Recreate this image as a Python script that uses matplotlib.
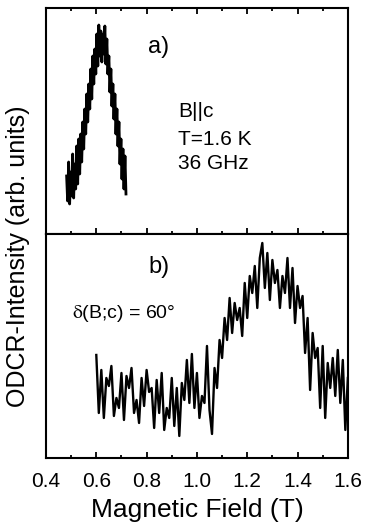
import matplotlib
matplotlib.use("Agg")
import numpy as np
import matplotlib.pyplot as plt
from matplotlib.ticker import MultipleLocator

plt.rcParams['font.family'] = ['Liberation Sans', 'DejaVu Sans']
plt.rcParams['mathtext.fontset'] = 'stix'

# panel a) B||c, T=1.6 K, 36 GHz
field_a = [0.482, 0.486, 0.490, 0.494, 0.498, 0.502, 0.506, 0.510, 0.514, 0.518,
           0.522, 0.526, 0.530, 0.534, 0.538, 0.542, 0.546, 0.550, 0.554, 0.558,
           0.562, 0.566, 0.570, 0.574, 0.578, 0.582, 0.586, 0.590, 0.594, 0.598,
           0.602, 0.606, 0.610, 0.614, 0.618, 0.622, 0.626, 0.630, 0.634, 0.638,
           0.642, 0.646, 0.650, 0.654, 0.658, 0.662, 0.666, 0.670, 0.674, 0.678,
           0.682, 0.686, 0.690, 0.694, 0.698, 0.702, 0.706, 0.710, 0.714, 0.718]
signal_a = [58, 33, 72, 30, 62, 38, 80, 36, 70, 45,
            88, 50, 95, 60, 100, 72, 112, 85, 125, 100,
            140, 112, 150, 125, 165, 135, 178, 150, 185, 160,
            200, 168, 209, 178, 203, 172, 200, 180, 208, 170,
            195, 160, 178, 142, 165, 128, 150, 115, 140, 100,
            125, 88, 112, 70, 95, 55, 85, 45, 78, 40]

# panel b) delta(B;c) = 60 deg
field_b = [0.60, 0.61, 0.62, 0.63, 0.64, 0.65, 0.66, 0.67, 0.68, 0.69,
           0.70, 0.71, 0.72, 0.73, 0.74, 0.75, 0.76, 0.77, 0.78, 0.79,
           0.80, 0.81, 0.82, 0.83, 0.84, 0.85, 0.86, 0.87, 0.88, 0.89,
           0.90, 0.91, 0.92, 0.93, 0.94, 0.95, 0.96, 0.97, 0.98, 0.99,
           1.00, 1.01, 1.02, 1.03, 1.04, 1.05, 1.06, 1.07, 1.08, 1.09,
           1.10, 1.11, 1.12, 1.13, 1.14, 1.15, 1.16, 1.17, 1.18, 1.19,
           1.20, 1.21, 1.22, 1.23, 1.24, 1.25, 1.26, 1.27, 1.28, 1.29,
           1.30, 1.31, 1.32, 1.33, 1.34, 1.35, 1.36, 1.37, 1.38, 1.39,
           1.40, 1.41, 1.42, 1.43, 1.44, 1.45, 1.46, 1.47, 1.48, 1.49,
           1.50, 1.51, 1.52, 1.53, 1.54, 1.55, 1.56, 1.57, 1.58, 1.59, 1.60]
signal_b = [103, 45, 88, 40, 80, 72, 92, 42, 60, 50,
            85, 38, 82, 70, 90, 45, 58, 35, 80, 52,
            88, 66, 70, 30, 78, 45, 85, 28, 50, 40,
            80, 32, 70, 22, 75, 58, 98, 55, 104, 50,
            85, 40, 62, 55, 112, 48, 24, 90, 70, 118,
            100, 140, 118, 160, 125, 155, 138, 150, 122, 175,
            140, 182, 165, 192, 150, 200, 215, 170, 205, 158,
            198, 175, 188, 150, 182, 165, 200, 150, 190, 135,
            172, 150, 162, 105, 140, 68, 125, 100, 110, 50,
            112, 40, 95, 70, 100, 62, 108, 55, 98, 28, 80]

xticks = [0.4, 0.6, 0.8, 1.0, 1.2, 1.4, 1.6]

fig = plt.figure(figsize=(3.65, 5.27), dpi=100)
ax1 = fig.add_axes([0.126, 0.556, 0.827, 0.4288])
ax2 = fig.add_axes([0.126, 0.131, 0.827, 0.425])

ax1.plot(field_a, signal_a, color='black', lw=2.0)
ax2.plot(field_b, signal_b, color='black', lw=1.7)

for ax in (ax1, ax2):
    ax.set_xlim(0.4, 1.6)
    ax.set_xticks(xticks)
    ax.xaxis.set_minor_locator(MultipleLocator(0.1))
    ax.set_yticks([])
    for sp in ax.spines.values():
        sp.set_linewidth(1.5)
    ax.tick_params(axis='x', which='major', direction='in', length=4, width=1.3)
    ax.tick_params(axis='x', which='minor', direction='in', length=2.5, width=1.3)

ax1.set_ylim(0, 226)
ax2.set_ylim(0, 224)
ax1.tick_params(axis='x', which='both', top=True, labelbottom=False)
ax2.tick_params(axis='x', which='major', labelsize=15, pad=10)
ax2.set_xticklabels(['0.4', '0.6', '0.8', '1.0', '1.2', '1.4', '1.6'])

ax1.text(0.374, 0.827, 'a)', transform=ax1.transAxes, fontsize=17,
         ha='center', va='center')
ax1.text(0.437, 0.54, 'B||c', transform=ax1.transAxes, fontsize=15, va='center')
ax1.text(0.437, 0.416, 'T=1.6 K', transform=ax1.transAxes, fontsize=15, va='center')
ax1.text(0.437, 0.314, '36 GHz', transform=ax1.transAxes, fontsize=15, va='center')

ax2.text(0.374, 0.853, 'b)', transform=ax2.transAxes, fontsize=17,
         ha='center', va='center')
ax2.text(0.086, 0.643, r'$\mathrm{\delta}$(B;c) = 60°', transform=ax2.transAxes,
         fontsize=14, va='center')

ax2.set_xlabel('Magnetic Field (T)', fontsize=19, labelpad=5)
fig.text(0.05, 1 - 256 / 527, 'ODCR-Intensity (arb. units)', rotation=90,
         fontsize=18, ha='center', va='center')

fig.savefig('out.png', dpi=100)
